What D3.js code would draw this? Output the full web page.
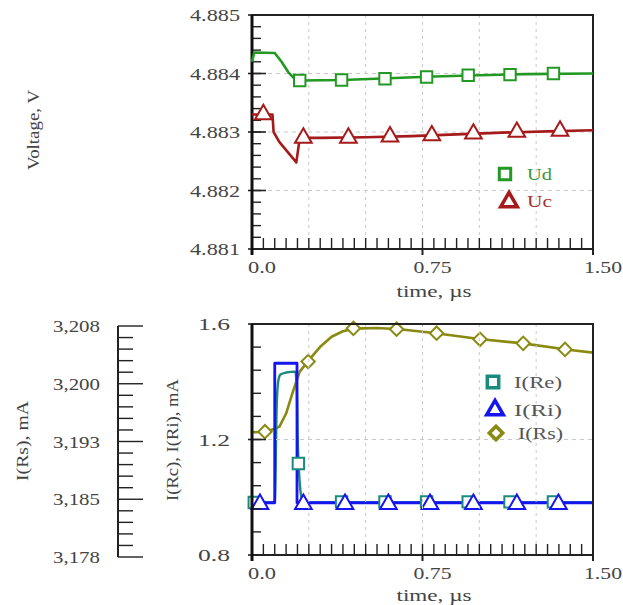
<!DOCTYPE html>
<html><head><meta charset="utf-8">
<script src="https://cdn.jsdelivr.net/npm/d3@7"></script>
<style>body{margin:0;background:#fff}svg{display:block}text{font-family:"Liberation Serif","DejaVu Serif",serif}</style>
</head><body>
<svg id="c" width="623" height="605"></svg>
<script>
// ---------- data ----------
const xTickLabels = ["0.0","0.75","1.50"];
const xTickValues = [0, 0.75, 1.5];
const topYTickValues = [4.885, 4.884, 4.883, 4.882, 4.881];
const topYTickLabels = ["4.885","4.884","4.883","4.882","4.881"];
const botYTickValues = [1.6, 1.2, 0.8];
const botYTickLabels = ["1.6","1.2","0.8"];
const secYTickValues = [3.208, 3.2005, 3.193, 3.1855, 3.178];
const secYTickLabels = ["3,208","3,200","3,193","3,185","3,178"];

const udT = [0, 0.01, 0.1, 0.13, 0.16, 0.19, 0.22, 0.4, 0.6, 0.8, 1.0, 1.2, 1.5];
const udV = [4.8842, 4.88436, 4.88435, 4.8842, 4.88402, 4.8839, 4.88388, 4.88389, 4.88392, 4.88395, 4.88397, 4.88399, 4.884];
const udMarkT = [0.21, 0.394, 0.585, 0.768, 0.951, 1.135, 1.326];
const udMarkV = [4.88388, 4.88389, 4.88391, 4.88394, 4.88397, 4.88398, 4.884];

const ucT = [0, 0.09, 0.095, 0.12, 0.195, 0.21, 0.3, 0.5, 0.7, 0.9, 1.1, 1.3, 1.5];
const ucV = [4.8833, 4.8833, 4.883, 4.88283, 4.88248, 4.8829, 4.8829, 4.88291, 4.88293, 4.88296, 4.88299, 4.88301, 4.88303];
const ucMarkT = [0.05, 0.226, 0.424, 0.607, 0.791, 0.974, 1.165, 1.355];
const ucMarkV = [4.8833, 4.8829, 4.8829, 4.88292, 4.88294, 4.88297, 4.883, 4.88302];

const rsT = [0, 0.05, 0.09, 0.12, 0.15, 0.18, 0.21, 0.25, 0.3, 0.35, 0.4, 0.45, 0.55, 0.65, 0.8, 1.0, 1.2, 1.4, 1.5];
const rsV = [1.225, 1.227, 1.235, 1.244, 1.29, 1.366, 1.435, 1.475, 1.521, 1.556, 1.575, 1.584, 1.586, 1.582, 1.569, 1.548, 1.532, 1.51, 1.501];
const rsMarkT = [0.057, 0.247, 0.446, 0.636, 0.812, 1.003, 1.193, 1.377];
const rsMarkV = [1.227, 1.47, 1.585, 1.582, 1.568, 1.547, 1.533, 1.512];

const riT = [0, 0.1, 0.1, 0.198, 0.198, 1.5];
const riV = [0.981, 0.981, 1.464, 1.464, 0.981, 0.981];
const riMarkT = [0.035, 0.226, 0.409, 0.6, 0.783, 0.974, 1.165, 1.348];
const riMarkV = [0.976, 0.976, 0.976, 0.976, 0.976, 0.976, 0.976, 0.976];

const reT = [0, 0.1, 0.104, 0.108, 0.115, 0.125, 0.15, 0.19, 0.197, 0.201, 0.206, 0.212, 0.22, 0.235, 1.5];
const reV = [0.982, 0.982, 1.1, 1.3, 1.4, 1.425, 1.432, 1.435, 1.38, 1.2, 1.1, 1.03, 0.995, 0.982, 0.982];
const reMarkT = [0.01, 0.204, 0.394, 0.585, 0.768, 0.951, 1.135, 1.326];
const reMarkV = [0.982, 1.117, 0.984, 0.984, 0.984, 0.984, 0.984, 0.984];

const topLegend = ["Ud","Uc"];
const botLegend = ["I(Re)","I(Ri)","I(Rs)"];

// ---------- layout ----------
const svg = d3.select("#c");
const X0 = 252, X1 = 593;
const x = d3.scaleLinear().domain([0, 1.5]).range([X0, X1]);
const yTop = d3.scaleLinear().domain([4.881, 4.885]).range([249, 15]);
const yBot = d3.scaleLinear().domain([0.8, 1.6]).range([555, 324]);
const ySec = d3.scaleLinear().domain([3.178, 3.208]).range([557, 326]);

const C = {ud:"#229922", uc:"#a51a1a", re:"#198a7c", ri:"#1515ee", rs:"#8a8a12"};

function frame(y, yMinorStep, yMajor, yDom) {
  const g = svg.append("g");
  const gridX = d3.range(0.25, 1.5, 0.25);
  g.selectAll(".gx").data(gridX).join("line")
    .attr("x1", d => x(d)).attr("x2", d => x(d))
    .attr("y1", y.range()[1]).attr("y2", y.range()[0])
    .attr("stroke", "#c8c8c8").attr("stroke-dasharray", "3,4").attr("stroke-width", 1);
  const gridY = yMajor.slice(1, -1);
  g.selectAll(".gy").data(gridY).join("line")
    .attr("x1", X0).attr("x2", X1)
    .attr("y1", d => y(d)).attr("y2", d => y(d))
    .attr("stroke", "#c8c8c8").attr("stroke-dasharray", "4,4").attr("stroke-width", 1);
  const xt = d3.range(0, 1.5001, 0.05);
  g.selectAll(".tx").data(xt).join("line")
    .attr("x1", d => x(d)).attr("x2", d => x(d))
    .attr("y1", y.range()[0]).attr("y2", y.range()[0] - 11)
    .attr("stroke", "#222").attr("stroke-width", 1.4);
  g.selectAll(".txm").data(xTickValues).join("line")
    .attr("x1", d => x(d)).attr("x2", d => x(d))
    .attr("y1", y.range()[0]).attr("y2", y.range()[0] + 6)
    .attr("stroke", "#222").attr("stroke-width", 2);
  const n = Math.round((yDom[1] - yDom[0]) / yMinorStep);
  const yt = d3.range(0, n + 1).map(i => yDom[0] + i * yMinorStep);
  g.selectAll(".ty").data(yt).join("line")
    .attr("x1", X0).attr("x2", X0 + 9)
    .attr("y1", d => y(d)).attr("y2", d => y(d))
    .attr("stroke", "#222").attr("stroke-width", 1.4);
  g.selectAll(".tym").data(yMajor).join("line")
    .attr("x1", X0 - 4).attr("x2", X0 + 14)
    .attr("y1", d => y(d)).attr("y2", d => y(d))
    .attr("stroke", "#222").attr("stroke-width", 1.6);
  g.append("rect").attr("x", X0).attr("y", y.range()[1])
    .attr("width", X1 - X0).attr("height", y.range()[0] - y.range()[1])
    .attr("fill", "none").attr("stroke", "#222").attr("stroke-width", 2);
  g.append("line").attr("x1", X0).attr("x2", X0)
    .attr("y1", y.range()[1]).attr("y2", y.range()[0] + 6)
    .attr("stroke", "#111").attr("stroke-width", 3);
  return g;
}

function xLabels(base, titleY) {
  svg.selectAll(null).data(xTickValues).join("text")
    .attr("x", d => x(d) + 10).attr("y", base)
    .attr("text-anchor", "middle").attr("font-size", 16).attr("fill", "#444")
    .attr("textLength", (d, i) => i === 0 ? 28 : 38).attr("lengthAdjust", "spacingAndGlyphs")
    .text((d, i) => xTickLabels[i]);
  svg.append("text").attr("x", 434).attr("y", titleY)
    .attr("text-anchor", "middle").attr("font-size", 16).attr("fill", "#444")
    .attr("textLength", 75).attr("lengthAdjust", "spacingAndGlyphs")
    .text("time, µs");
}

// ---------- top plot ----------
frame(yTop, 0.0002, topYTickValues.slice().reverse(), [4.881, 4.885]);
svg.selectAll(null).data(topYTickValues).join("text")
  .attr("x", 240).attr("y", d => yTop(d) + 6)
  .attr("text-anchor", "end").attr("font-size", 17).attr("fill", "#444")
  .attr("textLength", 50).attr("lengthAdjust", "spacingAndGlyphs")
  .text((d, i) => topYTickLabels[i]);
xLabels(273, 297);
svg.append("text").attr("transform", "translate(39,130) rotate(-90)")
  .attr("text-anchor", "middle").attr("font-size", 17).attr("fill", "#444")
  .attr("textLength", 80).attr("lengthAdjust", "spacingAndGlyphs")
  .text("Voltage, V");

const lineTop = d3.line().x(d => x(d[0])).y(d => yTop(d[1]));
const lineBot = d3.line().x(d => x(d[0])).y(d => yBot(d[1]));
const lineBotSmooth = d3.line().x(d => x(d[0])).y(d => yBot(d[1])).curve(d3.curveMonotoneX);

const gTop = svg.append("g");
const gBot = svg.append("g");

function drawLine(g, gen, T, V, col, w) {
  g.append("path").datum(T.map((t, i) => [t, V[i]])).attr("d", gen)
    .attr("fill", "none").attr("stroke", col).attr("stroke-width", w).attr("stroke-linejoin", "round");
}
const sym = {
  square: d3.symbol().type(d3.symbolSquare).size(130),
  triangle: d3.symbol().type(d3.symbolTriangle).size(120),
  diamond: d3.symbol().type(d3.symbolSquare).size(90)
};
function drawMarks(g, y, T, V, col, type, sw) {
  g.selectAll(null).data(T.map((t, i) => [t, V[i]])).join("path")
    .attr("d", sym[type]())
    .attr("transform", d => `translate(${x(d[0])},${y(d[1])})` + (type === "diamond" ? " rotate(45)" : ""))
    .attr("fill", "#fff").attr("stroke", col).attr("stroke-width", sw);
}

drawLine(gTop, lineTop, udT, udV, C.ud, 2.6);
drawLine(gTop, lineTop, ucT, ucV, C.uc, 2.6);
drawMarks(gTop, yTop, udMarkT, udMarkV, C.ud, "square", 2);
drawMarks(gTop, yTop, ucMarkT, ucMarkV, C.uc, "triangle", 2);

// top legend
const tl = svg.append("g");
tl.append("path").attr("d", sym.square()).attr("transform", "translate(505,174)")
  .attr("fill", "#fff").attr("stroke", C.ud).attr("stroke-width", 3);
tl.append("path").attr("d", sym.triangle()).attr("transform", "translate(509,202)")
  .attr("fill", "#fff").attr("stroke", C.uc).attr("stroke-width", 3.5);
tl.selectAll(null).data(topLegend).join("text")
  .attr("x", 527).attr("y", (d, i) => 180 + i * 27)
  .attr("font-size", 17).attr("fill", (d, i) => i === 0 ? "#3a9a3a" : "#a53030")
  .attr("textLength", 25).attr("lengthAdjust", "spacingAndGlyphs")
  .text(d => d);

// ---------- bottom plot ----------
frame(yBot, 0.08, botYTickValues.slice().reverse(), [0.8, 1.6]);
svg.selectAll(null).data(botYTickValues).join("text")
  .attr("x", 230).attr("y", d => yBot(d) + 6)
  .attr("text-anchor", "end").attr("font-size", 17).attr("fill", "#444")
  .attr("textLength", 32).attr("lengthAdjust", "spacingAndGlyphs")
  .text((d, i) => botYTickLabels[i]);
xLabels(579, 601);
svg.append("text").attr("transform", "translate(178,440) rotate(-90)")
  .attr("text-anchor", "middle").attr("font-size", 17).attr("fill", "#444")
  .attr("textLength", 122).attr("lengthAdjust", "spacingAndGlyphs")
  .text("I(Rc), I(Ri), mA");

// secondary axis
const sec = svg.append("g");
sec.append("line").attr("x1", 118).attr("x2", 118).attr("y1", ySec.range()[1]).attr("y2", ySec.range()[0])
  .attr("stroke", "#222").attr("stroke-width", 2);
const secTicks = d3.range(0, 21).map(i => 3.178 + i * 0.0015);
sec.selectAll(null).data(secTicks).join("line")
  .attr("x1", 118).attr("x2", (d, i) => (i % 5 === 0) ? 143 : 133)
  .attr("y1", d => ySec(d)).attr("y2", d => ySec(d))
  .attr("stroke", "#222").attr("stroke-width", 1.4);
sec.selectAll(null).data(secYTickValues).join("text")
  .attr("x", 100).attr("y", d => ySec(d) + 6)
  .attr("text-anchor", "end").attr("font-size", 17).attr("fill", "#444")
  .attr("textLength", 47).attr("lengthAdjust", "spacingAndGlyphs")
  .text((d, i) => secYTickLabels[i]);
svg.append("text").attr("transform", "translate(28,441) rotate(-90)")
  .attr("text-anchor", "middle").attr("font-size", 17).attr("fill", "#444")
  .attr("textLength", 80).attr("lengthAdjust", "spacingAndGlyphs")
  .text("I(Rs), mA");

drawLine(gBot, lineBot, rsT, rsV, C.rs, 2.6);
drawLine(gBot, lineBotSmooth, reT, reV, C.re, 2.4);
drawLine(gBot, lineBot, riT, riV, C.ri, 2.8);
drawMarks(gBot, yBot, rsMarkT, rsMarkV, C.rs, "diamond", 2);
drawMarks(gBot, yBot, reMarkT, reMarkV, C.re, "square", 2);
drawMarks(gBot, yBot, riMarkT, riMarkV, C.ri, "triangle", 2);

// bottom legend
const bl = svg.append("g");
bl.append("path").attr("d", sym.square()).attr("transform", "translate(493,382)")
  .attr("fill", "#fff").attr("stroke", C.re).attr("stroke-width", 3.5);
bl.append("path").attr("d", sym.triangle()).attr("transform", "translate(495,410)")
  .attr("fill", "#fff").attr("stroke", C.ri).attr("stroke-width", 3.5);
bl.append("path").attr("d", sym.diamond()).attr("transform", "translate(496,433) rotate(45)")
  .attr("fill", "#fff").attr("stroke", C.rs).attr("stroke-width", 3.5);
bl.selectAll(null).data(botLegend).join("text")
  .attr("x", (d, i) => i === 2 ? 518 : 514).attr("y", (d, i) => [388, 416, 439][i])
  .attr("font-size", 17).attr("fill", "#555")
  .attr("textLength", (d, i) => i === 2 ? 45 : 48).attr("lengthAdjust", "spacingAndGlyphs")
  .text(d => d);
</script>
</body></html>
